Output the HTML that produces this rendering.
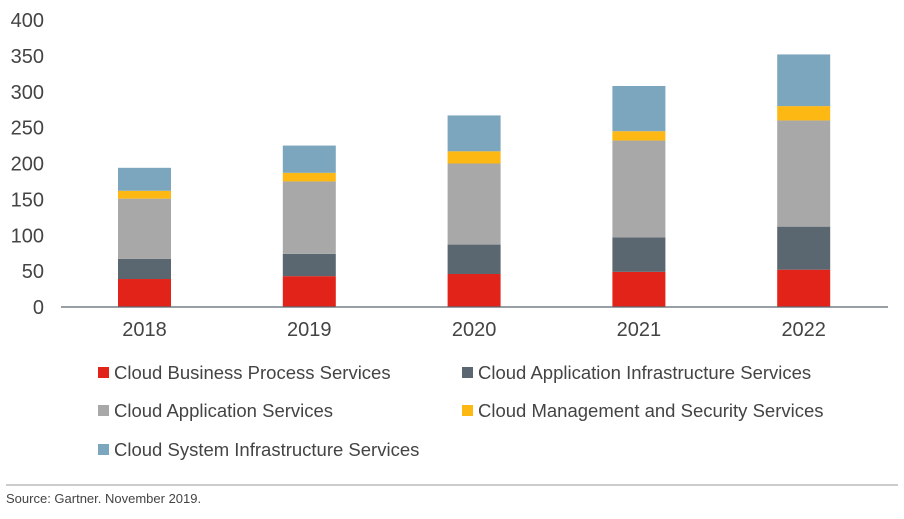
<!DOCTYPE html>
<html><head><meta charset="utf-8"><style>
body{margin:0;background:#fff;font-family:"Liberation Sans",sans-serif;}
svg text{font-family:"Liberation Sans",sans-serif;fill:#444;}
</style></head><body>
<svg width="904" height="514" xmlns="http://www.w3.org/2000/svg">
<g id="yaxis"></g>
<g id="bars"></g>
<line x1="61" y1="307" x2="888" y2="307" stroke="#5a6770" stroke-width="1.3"/>
<g id="xaxis"></g>
<g id="legend"></g>
<line x1="6" y1="485" x2="898" y2="485" stroke="#999" stroke-width="1"/>
<text x="6" y="503" font-size="13">Source: Gartner. November 2019.</text>
</svg>
<script>
const categories = ["2018","2019","2020","2021","2022"];
const seriesNames = ["Cloud Business Process Services","Cloud Application Infrastructure Services","Cloud Application Services","Cloud Management and Security Services","Cloud System Infrastructure Services"];
const bps = [39,43,46,49,52];
const appInfra = [28,31,41,48,60];
const apps = [84,101,113,135,148];
const mgmt = [11,12,17,13,20];
const sysInfra = [32,38,50,63,72];
const yTicks = [0,50,100,150,200,250,300,350,400];
const colors = ["#e2231a","#5a6770","#a8a8a8","#fdb813","#7ba6be"];
const series = [bps,appInfra,apps,mgmt,sysInfra];
const NS="http://www.w3.org/2000/svg";
const y0=307, yTop=20, yMax=400;
function y(v){return y0-(v/yMax)*(y0-yTop);}
function xc(i){return 144.5+i*164.8;}
const bw=53;
function mk(t,a,p){const e=document.createElementNS(NS,t);for(const k in a)e.setAttribute(k,a[k]);p.appendChild(e);return e;}
const ya=document.getElementById('yaxis');
yTicks.forEach(t=>{const e=mk('text',{x:44,y:y(t)+7,'text-anchor':'end','font-size':20},ya);e.textContent=t;

});
const xa=document.getElementById('xaxis');
categories.forEach((c,i)=>{const e=mk('text',{x:xc(i),y:336,'text-anchor':'middle','font-size':20},xa);e.textContent=c;

});
const bg=document.getElementById('bars');
categories.forEach((c,i)=>{let cum=0;series.forEach((s,j)=>{const v=s[i];const r=mk('rect',{x:xc(i)-bw/2,y:y(cum+v),width:bw,height:y(cum)-y(cum+v),fill:colors[j]},bg);

cum+=v;});});
const lg=document.getElementById('legend');
const lpos=[[98,373],[462,373],[98,411],[462,411],[98,450]];
seriesNames.forEach((n,j)=>{const [lx,ly]=lpos[j];
const r=mk('rect',{x:lx,y:ly-6,width:11,height:11,fill:colors[j]},lg);


const t=mk('text',{x:lx+16,y:ly+6,'font-size':18.5},lg);t.textContent=n;

});
</script>
</body></html>
